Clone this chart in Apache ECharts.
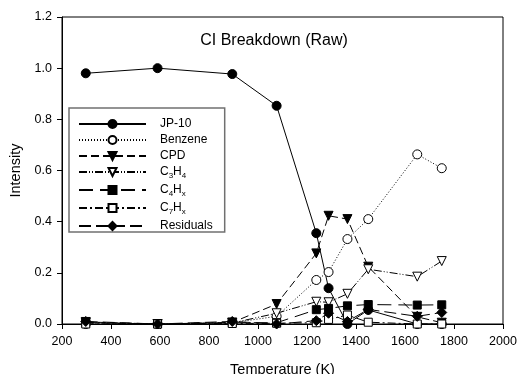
<!DOCTYPE html>
<html>
<head>
<meta charset="utf-8">
<script src="https://cdn.jsdelivr.net/npm/echarts@6/dist/echarts.min.js"></script>
<style>html,body{margin:0;padding:0;background:#fff;}#c{width:517px;height:374px;}</style>
</head>
<body>
<div id="c"></div>
<script>
var temps = [297, 590, 895, 1076, 1238, 1288, 1365, 1450, 1650, 1750];
var jp10 = [0.98, 1.0, 0.977, 0.853, 0.355, 0.14, 0.0, 0.055, 0.0, 0.0];
var benzene = [0.0, 0.0, 0.005, 0.03, 0.172, 0.203, 0.332, 0.41, 0.663, 0.609];
var cpd = [0.008, 0.0, 0.006, 0.078, 0.276, 0.423, 0.41, 0.224, 0.028, 0.005];
var c3h4 = [0.005, 0.0, 0.004, 0.042, 0.087, 0.085, 0.118, 0.214, 0.185, 0.246];
var c4hx = [0.006, 0.0, 0.005, 0.005, 0.056, 0.061, 0.071, 0.076, 0.074, 0.075];
var c7hx = [0.0, 0.0, 0.002, 0.003, 0.005, 0.018, 0.035, 0.007, 0.0, 0.0];
var residuals = [0.01, 0.0, 0.01, 0.0, 0.013, 0.042, 0.01, 0.057, 0.03, 0.045];
var names = ['JP-10', 'Benzene', 'CPD', 'C3H4', 'C4Hx', 'C7Hx', 'Residuals'];
var xTicks = [200, 400, 600, 800, 1000, 1200, 1400, 1600, 1800, 2000];
var yTicks = [0.0, 0.2, 0.4, 0.6, 0.8, 1.0, 1.2];

function pairs(v){ return temps.map(function(t,i){ return [t, v[i]]; }); }
var FONT = 'Liberation Sans, Arial, sans-serif';

function mk(name, vals, symbol, filled, dash, rot, size){
  return {
    name: name, type: 'line', data: pairs(vals),
    symbol: symbol, symbolSize: size, symbolRotate: rot || 0,
    lineStyle: {color: '#000', width: 1, type: dash},
    itemStyle: {color: filled ? '#000' : '#fff', borderColor: '#000', borderWidth: 1},
    emphasis: {disabled: true}, animation: false, z: 2
  };
}

var legendFormats = {
  'JP-10': '{n|JP-10}',
  'Benzene': '{n|Benzene}',
  'CPD': '{n|CPD}',
  'C3H4': '{n|C}{s|3}{n|H}{s|4}',
  'C4Hx': '{n|C}{s|4}{n|H}{s|x}',
  'C7Hx': '{n|C}{s|7}{n|H}{s|x}',
  'Residuals': '{n|Residuals}'
};

var chart = echarts.init(document.getElementById('c'), null, {renderer: 'canvas'});
chart.setOption({
  animation: false,
  backgroundColor: '#fff',
  title: {
    text: 'CI Breakdown (Raw)', left: 269, top: 28, textAlign: 'center',
    textStyle: {fontFamily: FONT, fontSize: 16, fontWeight: 'normal', color: '#000'}
  },
  grid: {left: 62, right: 14, top: 17, bottom: 50, containLabel: false, outerBoundsMode: 'none', show: true, borderColor: '#000', borderWidth: 1, backgroundColor: 'transparent'},
  legend: {
    data: names, orient: 'vertical', left: 69, top: 108,
    itemWidth: 67, itemHeight: 10, itemGap: 4,
    padding: [10, 12, 0, 9],
    borderColor: '#707070', borderWidth: 1.5,
    selectedMode: false,
    formatter: function(n){ return legendFormats[n]; },
    textStyle: {
      fontFamily: FONT, color: '#000', padding: [0, 0, 0, 9],
      rich: {
        n: {fontFamily: FONT, fontSize: 12, color: '#000', lineHeight: 12},
        s: {fontFamily: FONT, fontSize: 8, color: '#000', lineHeight: 8, verticalAlign: 'bottom', padding: [0, 0, -2, 0]}
      }
    }
  },
  xAxis: {
    type: 'value', min: xTicks[0], max: xTicks[xTicks.length-1], interval: 200,
    name: 'Temperature (K)', nameLocation: 'middle', nameGap: 38,
    nameTextStyle: {fontFamily: FONT, fontSize: 14.5, color: '#000'},
    axisLine: {show: true, onZero: false, lineStyle: {color: '#000', width: 1}},
    axisTick: {show: true, inside: false, length: 5, lineStyle: {color: '#000'}},
    axisLabel: {fontFamily: FONT, fontSize: 12.5, color: '#000', margin: 11, formatter: function(v){ return String(v); }},
    splitLine: {show: false}
  },
  yAxis: {
    type: 'value', min: yTicks[0], max: yTicks[yTicks.length-1], interval: 0.2,
    name: 'Intensity', nameLocation: 'middle', nameGap: 36,
    nameTextStyle: {fontFamily: FONT, fontSize: 14.5, color: '#000'},
    axisLine: {show: true, lineStyle: {color: '#000', width: 1}},
    axisTick: {show: true, inside: false, length: 5, lineStyle: {color: '#000'}},
    axisLabel: {fontFamily: FONT, fontSize: 12.5, color: '#000', margin: 10, formatter: function(v){ return v.toFixed(1); }},
    splitLine: {show: false}
  },
  series: [
    mk('JP-10', jp10, 'circle', true, 'solid', 0, 9),
    mk('Benzene', benzene, 'circle', false, [1, 2], 0, 9),
    mk('CPD', cpd, 'triangle', true, [8, 4], 180, 9),
    mk('C3H4', c3h4, 'triangle', false, [8, 2, 1, 2, 1, 2], 180, 9),
    mk('C4Hx', c4hx, 'rect', true, [14, 7], 0, 8),
    mk('C7Hx', c7hx, 'rect', false, [8, 3, 2, 3], 0, 8),
    mk('Residuals', residuals, 'diamond', true, [12, 5], 0, 10)
  ]
});
</script>
</body>
</html>
